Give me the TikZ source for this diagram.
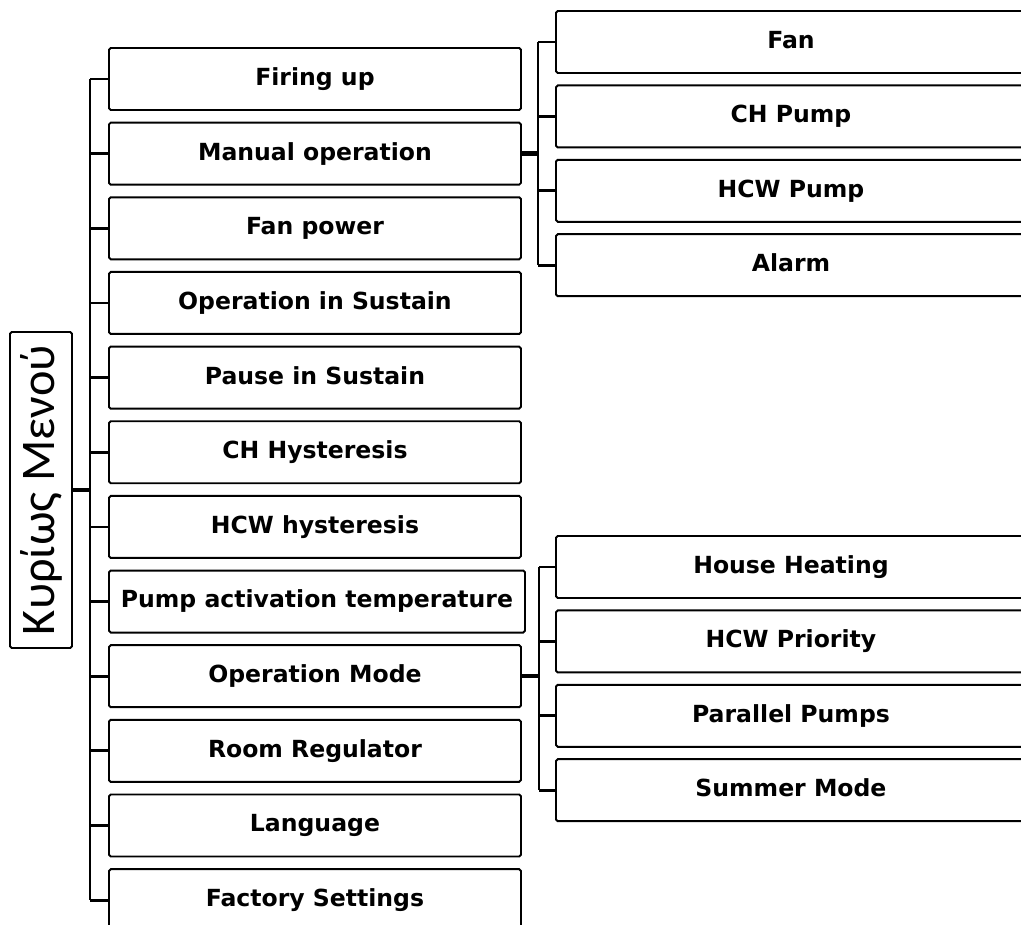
\documentclass[tikz,border=0pt]{standalone}
\usepackage{fontspec}
\setmainfont{DejaVu Sans}
\newfontfamily\menufont{Carlito}

\tikzset{
  item/.style={draw, line width=1.1pt, rounded corners=1pt, anchor=west,
    minimum height=62*0.02cm, inner sep=2pt, align=center,
    text height=0.73em, text depth=0pt},
  rootbox/.style={draw, line width=1.1pt, rounded corners=1pt, rotate=90,
    minimum width=316*0.02cm, minimum height=62*0.02cm,
    font=\mdseries\menufont\fontsize{27.5}{32}\selectfont},
  bus/.style={line width=1.6pt},
  stem/.style={line width=2.6pt}
}

\begin{document}
\begin{tikzpicture}[x=0.02cm, y=-0.02cm, font=\bfseries\fontsize{13.4}{16}\selectfont]
  \useasboundingbox (0,0) rectangle (1021,924);

  \node[rootbox] (root) at (41,490) {Κυρίως Μενού};

  % main menu
  \foreach \txt/\w [count=\i] in {Firing up/412, Manual operation/412, Fan power/412,
      Operation in Sustain/412, Pause in Sustain/412, CH Hysteresis/412,
      HCW hysteresis/412, Pump activation temperature/416, Operation Mode/412,
      Room Regulator/412, Language/412, Factory Settings/412}
    \node[item, minimum width=\w*0.02cm] (m\i) at (108,{79+74.65*(\i-1)}) {\txt};

  % manual operation
  \foreach \txt [count=\i] in {Fan, CH Pump, HCW Pump, Alarm}
    \node[item, minimum width=470*0.02cm] (f\i) at (555,{42+74.4*(\i-1)}) {\txt};

  % operation mode
  \foreach \txt [count=\i] in {House Heating, HCW Priority, Parallel Pumps, Summer Mode}
    \node[item, minimum width=470*0.02cm] (o\i) at (555,{567+74.4*(\i-1)}) {\txt};

  \coordinate (mbus) at (90,0);
  \coordinate (fbus) at (538,0);
  \coordinate (obus) at (539,0);

  \draw[stem] (root.south) -- (root.south -| mbus);
  \draw[bus] (m1.west -| mbus) -- (m12.west -| mbus);
  \foreach \i in {1,...,12}
    \draw[bus] (m\i.west -| mbus) -- (m\i.west);

  \draw[stem] (m2.east) -- (m2.east -| fbus);
  \draw[bus] (f1.west -| fbus) -- (f4.west -| fbus);
  \foreach \i in {1,...,4}
    \draw[bus] (f\i.west -| fbus) -- (f\i.west);

  \draw[stem] (m9.east) -- (m9.east -| obus);
  \draw[bus] (o1.west -| obus) -- (o4.west -| obus);
  \foreach \i in {1,...,4}
    \draw[bus] (o\i.west -| obus) -- (o\i.west);
\end{tikzpicture}
\end{document}
